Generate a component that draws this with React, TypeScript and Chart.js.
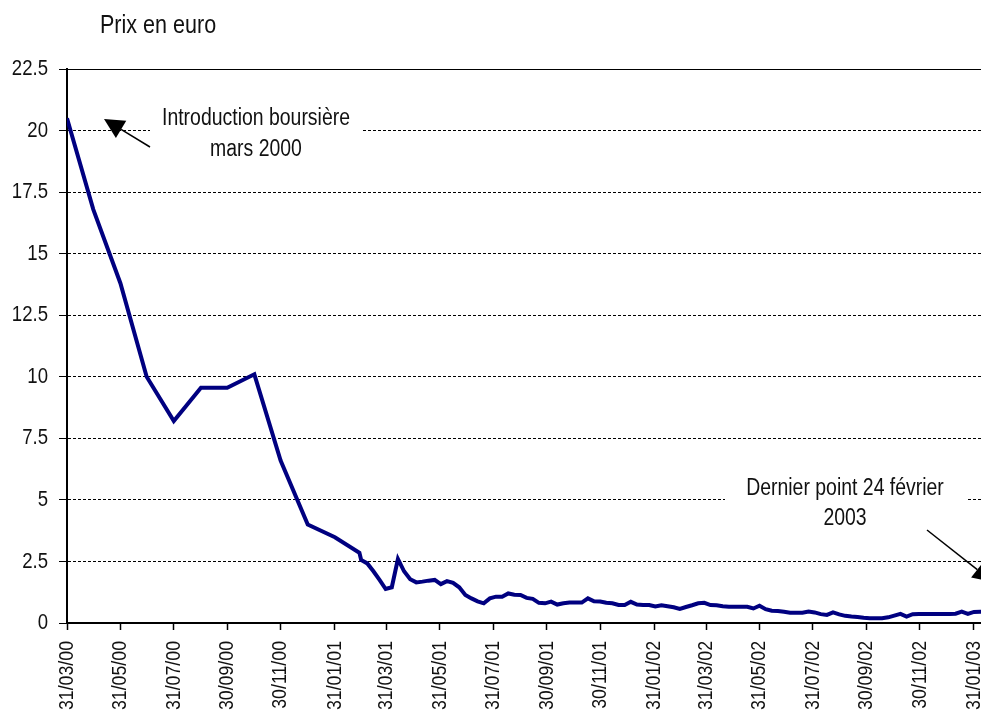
import React, { useEffect, useRef } from "react";
import { Chart, registerables } from "chart.js";

Chart.register(...registerables);

// ---- Data ----
const dates = [
  "2000-03-31", "2000-04-30", "2000-05-31", "2000-06-30", "2000-07-31", "2000-08-31",
  "2000-09-30", "2000-10-31", "2000-11-30", "2000-12-31", "2001-01-31", "2001-02-28",
  "2001-03-02", "2001-03-09", "2001-03-16", "2001-03-23", "2001-03-30",
  "2001-04-06", "2001-04-13", "2001-04-20", "2001-04-27",
  "2001-05-04", "2001-05-11", "2001-05-18", "2001-05-25",
  "2001-06-01", "2001-06-08", "2001-06-15", "2001-06-22", "2001-06-29",
  "2001-07-06", "2001-07-13", "2001-07-20", "2001-07-27",
  "2001-08-03", "2001-08-10", "2001-08-17", "2001-08-24", "2001-08-31",
  "2001-09-07", "2001-09-14", "2001-09-21", "2001-09-28",
  "2001-10-05", "2001-10-12", "2001-10-19", "2001-10-26",
  "2001-11-02", "2001-11-09", "2001-11-16", "2001-11-23", "2001-11-30",
  "2001-12-07", "2001-12-14", "2001-12-21", "2001-12-28",
  "2002-01-04", "2002-01-11", "2002-01-18", "2002-01-25",
  "2002-02-01", "2002-02-08", "2002-02-15", "2002-02-22",
  "2002-03-01", "2002-03-08", "2002-03-15", "2002-03-22", "2002-03-29",
  "2002-04-05", "2002-04-12", "2002-04-19", "2002-04-26",
  "2002-05-03", "2002-05-10", "2002-05-17", "2002-05-24", "2002-05-31",
  "2002-06-07", "2002-06-14", "2002-06-21", "2002-06-28",
  "2002-07-05", "2002-07-12", "2002-07-19", "2002-07-26",
  "2002-08-02", "2002-08-09", "2002-08-16", "2002-08-23", "2002-08-30",
  "2002-09-06", "2002-09-13", "2002-09-20", "2002-09-27",
  "2002-10-04", "2002-10-11", "2002-10-18", "2002-10-25",
  "2002-11-01", "2002-11-08", "2002-11-15", "2002-11-22", "2002-11-29",
  "2002-12-06", "2002-12-13", "2002-12-20", "2002-12-27",
  "2003-01-03", "2003-01-10", "2003-01-17", "2003-01-24", "2003-01-31",
  "2003-02-07", "2003-02-14", "2003-02-21", "2003-02-24",
];

const prices = [
  20.5, 16.8, 13.8, 10.0, 8.2, 9.55,
  9.55, 10.1, 6.6, 4.0, 3.48, 2.85,
  2.56, 2.42, 2.1, 1.75, 1.38,
  1.45, 2.6, 2.1, 1.78,
  1.65, 1.68, 1.72, 1.75,
  1.58, 1.7, 1.63, 1.45, 1.14,
  1.0, 0.88, 0.8, 1.0,
  1.07, 1.07, 1.2, 1.15, 1.14,
  1.02, 0.98, 0.82, 0.8,
  0.87, 0.75, 0.8, 0.83,
  0.83, 0.83, 1.0, 0.88, 0.87,
  0.82, 0.8, 0.73, 0.73,
  0.86, 0.75, 0.73, 0.73,
  0.67, 0.72, 0.68, 0.64,
  0.57, 0.65, 0.72, 0.8, 0.82,
  0.73, 0.72, 0.68, 0.66,
  0.66, 0.66, 0.66, 0.59, 0.7,
  0.56, 0.5, 0.49, 0.46,
  0.42, 0.42, 0.42, 0.47,
  0.43, 0.36, 0.33, 0.43, 0.35,
  0.29, 0.26, 0.24, 0.21,
  0.19, 0.19, 0.19, 0.23,
  0.3, 0.37, 0.26, 0.36, 0.37,
  0.37, 0.37, 0.37, 0.37,
  0.37, 0.38, 0.46, 0.37, 0.45,
  0.46, 0.46, 0.47, 0.48,
];

const tickDates = [
  "2000-03-31", "2000-05-31", "2000-07-31", "2000-09-30", "2000-11-30",
  "2001-01-31", "2001-03-31", "2001-05-31", "2001-07-31", "2001-09-30", "2001-11-30",
  "2002-01-31", "2002-03-31", "2002-05-31", "2002-07-31", "2002-09-30", "2002-11-30",
  "2003-01-31",
];
const tickLabels = [
  "31/03/00", "31/05/00", "31/07/00", "30/09/00", "30/11/00",
  "31/01/01", "31/03/01", "31/05/01", "31/07/01", "30/09/01", "30/11/01",
  "31/01/02", "31/03/02", "31/05/02", "31/07/02", "30/09/02", "30/11/02",
  "31/01/03",
];

const yMin = 0;
const yMax = 22.5;
const yStep = 2.5;
const axisStart = "2000-03-31";
const axisEnd = "2003-02-24";

const titleText = "Prix en euro";
const note1 = ["Introduction boursière", "mars 2000"];
const note2 = ["Dernier point 24 février", "2003"];

const FONT = "'Liberation Sans', Arial, sans-serif";
const NARROW = 0.845; // horizontal squeeze to mimic a narrow face

function dayIndex(iso: string): number {
  const [y, m, d] = iso.split("-").map(Number);
  const [y0, m0, d0] = axisStart.split("-").map(Number);
  return Math.round((Date.UTC(y, m - 1, d) - Date.UTC(y0, m0 - 1, d0)) / 86400000);
}

function drawArrow(ctx: CanvasRenderingContext2D, x1: number, y1: number, x2: number, y2: number) {
  const ang = Math.atan2(y2 - y1, x2 - x1);
  const headLen = 20;
  const headHalf = 10;
  const bx = x2 - headLen * Math.cos(ang);
  const by = y2 - headLen * Math.sin(ang);
  ctx.strokeStyle = "#000";
  ctx.lineWidth = 1.5;
  ctx.beginPath();
  ctx.moveTo(x1, y1);
  ctx.lineTo(bx, by);
  ctx.stroke();
  ctx.fillStyle = "#000";
  ctx.beginPath();
  ctx.moveTo(x2, y2);
  ctx.lineTo(bx + headHalf * Math.sin(ang), by - headHalf * Math.cos(ang));
  ctx.lineTo(bx - headHalf * Math.sin(ang), by + headHalf * Math.cos(ang));
  ctx.closePath();
  ctx.fill();
}

const annotationPlugin = {
  id: "annotations",
  beforeDatasetsDraw(chart: any) {
    const { ctx, chartArea: a } = chart;
    ctx.save();
    ctx.fillStyle = "#fff";
    ctx.fillRect(a.left + 83, a.top + 31, 213, 66);
    ctx.fillRect(a.left + 658, a.top + 401, 243, 70);
    ctx.restore();
  },
  afterDraw(chart: any) {
    const { ctx, chartArea: a } = chart;
    ctx.save();
    // plot-area top border
    ctx.strokeStyle = "#000";
    ctx.lineWidth = 1;
    ctx.beginPath();
    ctx.moveTo(a.left, Math.round(a.top) + 0.5);
    ctx.lineTo(a.right, Math.round(a.top) + 0.5);
    ctx.stroke();

    ctx.fillStyle = "#111";
    ctx.textBaseline = "alphabetic";
    ctx.font = `25.5px ${FONT}`;
    ctx.textAlign = "left";
    ctx.fillText(titleText, 100, 33);

    ctx.font = `23px ${FONT}`;
    ctx.textAlign = "center";
    ctx.fillText(note1[0], a.left + 189, a.top + 56);
    ctx.fillText(note1[1], a.left + 189, a.top + 87);
    ctx.fillText(note2[0], a.left + 778, a.top + 426);
    ctx.fillText(note2[1], a.left + 778, a.top + 456);

    drawArrow(ctx, a.left + 83, a.top + 78, a.left + 37, a.top + 50);
    drawArrow(ctx, a.left + 860, a.top + 461, a.left + 926, a.top + 513);
    ctx.restore();
  },
};

export default function App() {
  const ref = useRef<HTMLCanvasElement | null>(null);

  useEffect(() => {
    const canvas = ref.current;
    if (!canvas) return;
    const ctx2d = canvas.getContext("2d") as CanvasRenderingContext2D;
    // squeeze every text run horizontally (in its own frame) to mimic a narrow typeface
    const origFillText = ctx2d.fillText.bind(ctx2d);
    (ctx2d as any).fillText = (text: string, x: number, y: number) => {
      ctx2d.save();
      ctx2d.translate(x, y);
      ctx2d.scale(NARROW, 1);
      origFillText(text, 0, 0);
      ctx2d.restore();
    };

    const points = dates.map((d, i) => ({ x: dayIndex(d), y: prices[i] }));
    const tickDays = tickDates.map(dayIndex);

    const chart = new Chart(canvas, {
      type: "line",
      data: {
        datasets: [
          {
            label: "Prix",
            data: points,
            borderColor: "#000080",
            backgroundColor: "#000080",
            borderWidth: 4,
            pointRadius: 0,
            tension: 0,
            fill: false,
          },
        ],
      },
      options: {
        responsive: false,
        animation: false,
        events: [],
        layout: { padding: { top: 69, right: 5, left: 0, bottom: 0 } },
        plugins: {
          legend: { display: false },
          tooltip: { enabled: false },
          title: { display: false },
        },
        scales: {
          x: {
            type: "linear",
            bounds: "data",
            min: dayIndex(axisStart),
            max: dayIndex(axisEnd),
            offset: false,
            afterBuildTicks: (scale: any) => {
              scale.ticks = tickDays.map((v) => ({ value: v }));
            },
            afterFit: (scale: any) => {
              scale.height = 91;
              scale.paddingLeft = 0;
              scale.paddingRight = 0;
            },
            grid: {
              display: true,
              drawOnChartArea: false,
              drawTicks: true,
              tickLength: 7,
              tickColor: "#000",
              tickWidth: 1.5,
            },
            border: { display: true, color: "#000", width: 2 },
            ticks: {
              autoSkip: false,
              minRotation: 90,
              maxRotation: 90,
              padding: 11,
              color: "#111",
              font: { family: FONT, size: 21 },
              callback: (value: any) => {
                const idx = tickDays.indexOf(Number(value));
                return idx >= 0 ? tickLabels[idx] : "";
              },
            },
          },
          y: {
            type: "linear",
            min: yMin,
            max: yMax,
            afterFit: (scale: any) => {
              scale.width = 67;
              scale.paddingTop = 0;
              scale.paddingBottom = 0;
            },
            grid: {
              display: true,
              color: "#000",
              lineWidth: 1,
              drawTicks: true,
              tickLength: 8,
              tickColor: "#000",
              tickWidth: 1,
              tickBorderDash: [],
            },
            border: { display: true, color: "#000", width: 2, dash: [3, 2] },
            ticks: {
              stepSize: yStep,
              padding: 11,
              color: "#111",
              font: { family: FONT, size: 22 },
              callback: (value: any) => String(value),
            },
          },
        },
      },
      plugins: [annotationPlugin],
    });

    return () => {
      chart.destroy();
      (ctx2d as any).fillText = origFillText;
    };
  }, []);

  return (
    <div
      style={{
        position: "fixed",
        left: 0,
        top: 0,
        width: 981,
        height: 714,
        overflow: "hidden",
        background: "#fff",
      }}
    >
      <canvas ref={ref} width={1000} height={714} style={{ width: 1000, height: 714, display: "block" }} />
    </div>
  );
}
